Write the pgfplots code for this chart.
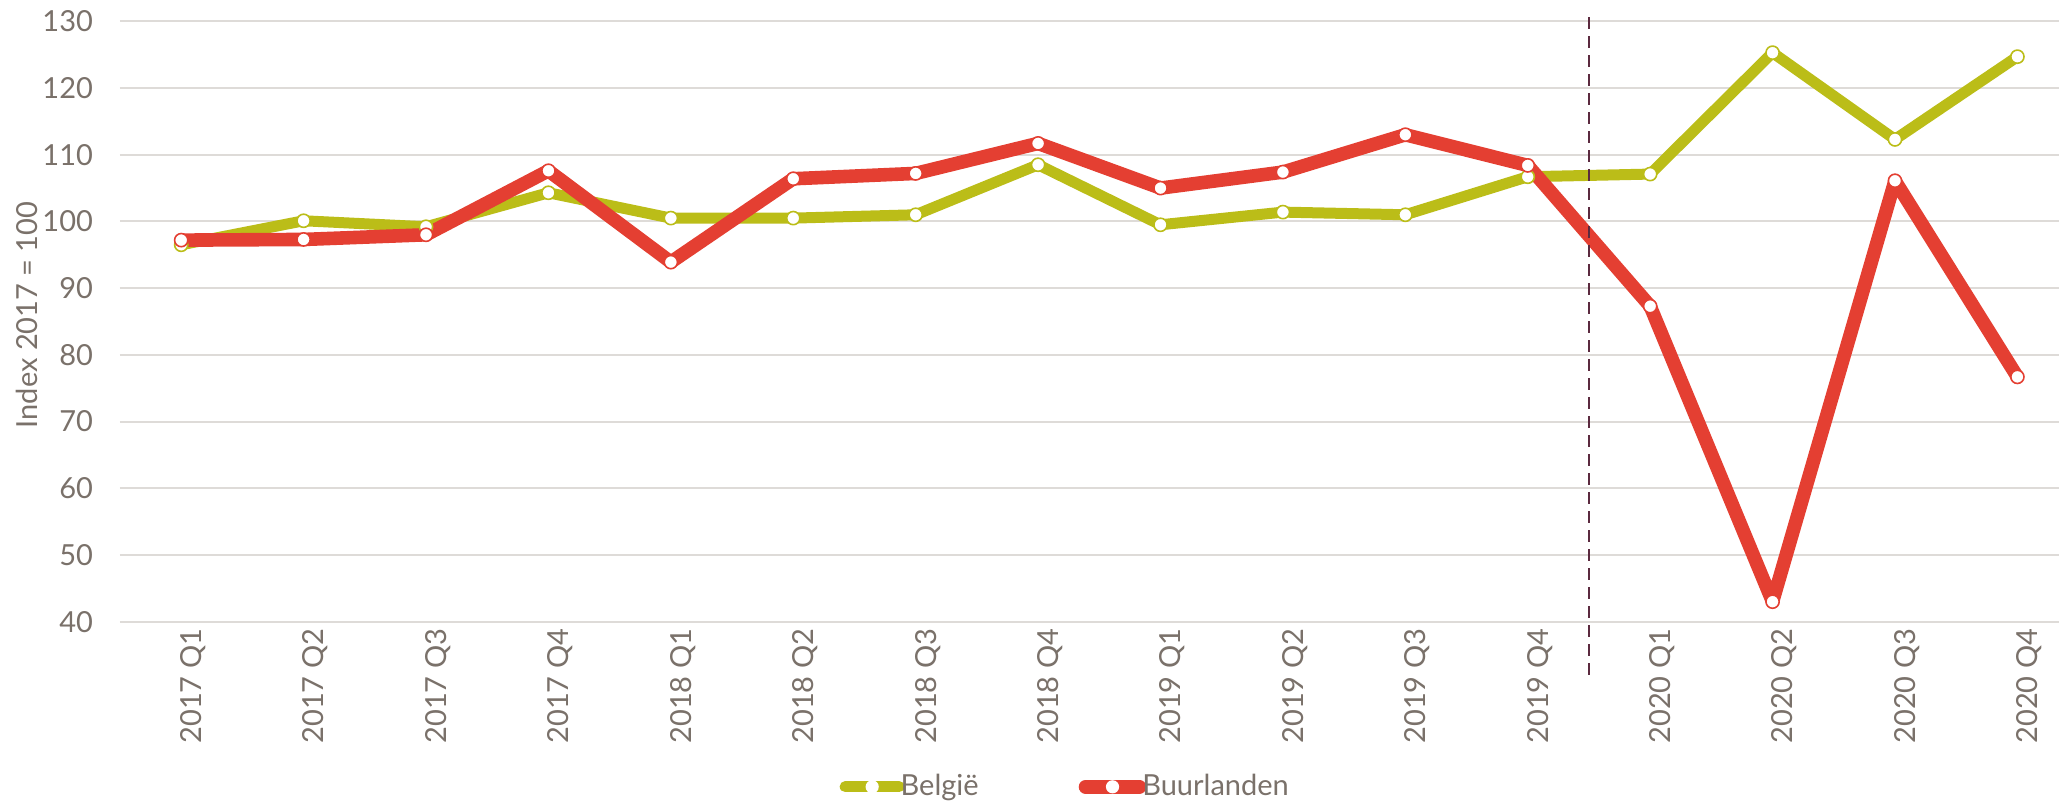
\documentclass[border=0pt]{standalone}
\usepackage{pgfplots}
\pgfplotsset{compat=1.18}
\usepackage{fontspec}
\setmainfont{Lato}
\definecolor{olive}{HTML}{BBBD18}
\definecolor{redl}{HTML}{E43F32}
\definecolor{txt}{HTML}{7A716A}
\definecolor{gridc}{HTML}{DEDBD8}
\definecolor{dashc}{HTML}{5B2A3F}
\pgfplotstableread{
x be bu
0 96.5 97.2
1 100.1 97.3
2 99.2 98.0
3 104.3 107.6
4 100.5 93.9
5 100.5 106.4
6 101.0 107.2
7 108.5 111.7
8 99.5 105.0
9 101.4 107.4
10 101.0 113.0
11 106.7 108.4
12 107.1 87.3
13 125.3 43.0
14 112.3 106.1
15 124.7 76.7
}\data
\begin{document}
\begin{tikzpicture}
\path[use as bounding box] (-60pt,-93.15pt) rectangle (969.5pt,310.85pt);
\begin{axis}[
  scale only axis,
  width=969.5pt, height=300.2pt,
  xmin=-0.5, xmax=15.34,
  ymin=40, ymax=130,
  ytick={40,50,...,130},
  xtick={0,...,15},
  xticklabels={2017 Q1,2017 Q2,2017 Q3,2017 Q4,2018 Q1,2018 Q2,2018 Q3,2018 Q4,2019 Q1,2019 Q2,2019 Q3,2019 Q4,2020 Q1,2020 Q2,2020 Q3,2020 Q4},
  axis line style={draw=none},
  ymajorgrids, grid style={gridc, line width=1pt},
  major tick length=0pt,
  clip=false,
  font=\fontsize{14.5}{16}\selectfont,
  /pgf/number format/assume math mode=true,
  tick label style={text=txt, font=\fontsize{14.5}{16}\selectfont},
  xticklabel style={rotate=90, anchor=east, yshift=-6pt},
  yticklabel style={xshift=-10pt},
  ylabel={Index 2017 = 100},
  ylabel style={text=txt, at={(axis description cs:-0.048,0.511)}, anchor=center, rotate=0},
  legend style={at={(axis description cs:0.488,-0.275)}, anchor=center, draw=none, fill=none,
    legend columns=2, text=txt, font=\fontsize{14.5}{16}\selectfont,
    /tikz/every even column/.append style={column sep=48pt}},
  legend cell align=left,
  legend image code/.code={
    \draw[#1, mark=none, line cap=round] (3pt,0pt) -- (30pt,0pt);
    \draw[#1, draw opacity=0] plot coordinates {(16.5pt,0pt)};
  },
]
\addplot[olive, line width=5.5pt, line join=round, mark=*, mark size=3.3pt,
  mark options={fill=white, draw=olive, line width=0.8pt}] table[x=x, y=be] {\data};
\addlegendentry{\hspace{-4pt}België}
\addplot[redl, line width=6.8pt, line join=round, mark=*, mark size=3.3pt,
  mark options={fill=white, draw=redl, line width=0.8pt}] table[x=x, y=bu] {\data};
\addlegendentry{\hspace{-4pt}Buurlanden}
\addplot[dashc, line width=1.4pt, dash pattern=on 6pt off 3.5pt, forget plot] coordinates {(11.5,130.6) (11.5,31.1)};
\end{axis}
\end{tikzpicture}
\end{document}
